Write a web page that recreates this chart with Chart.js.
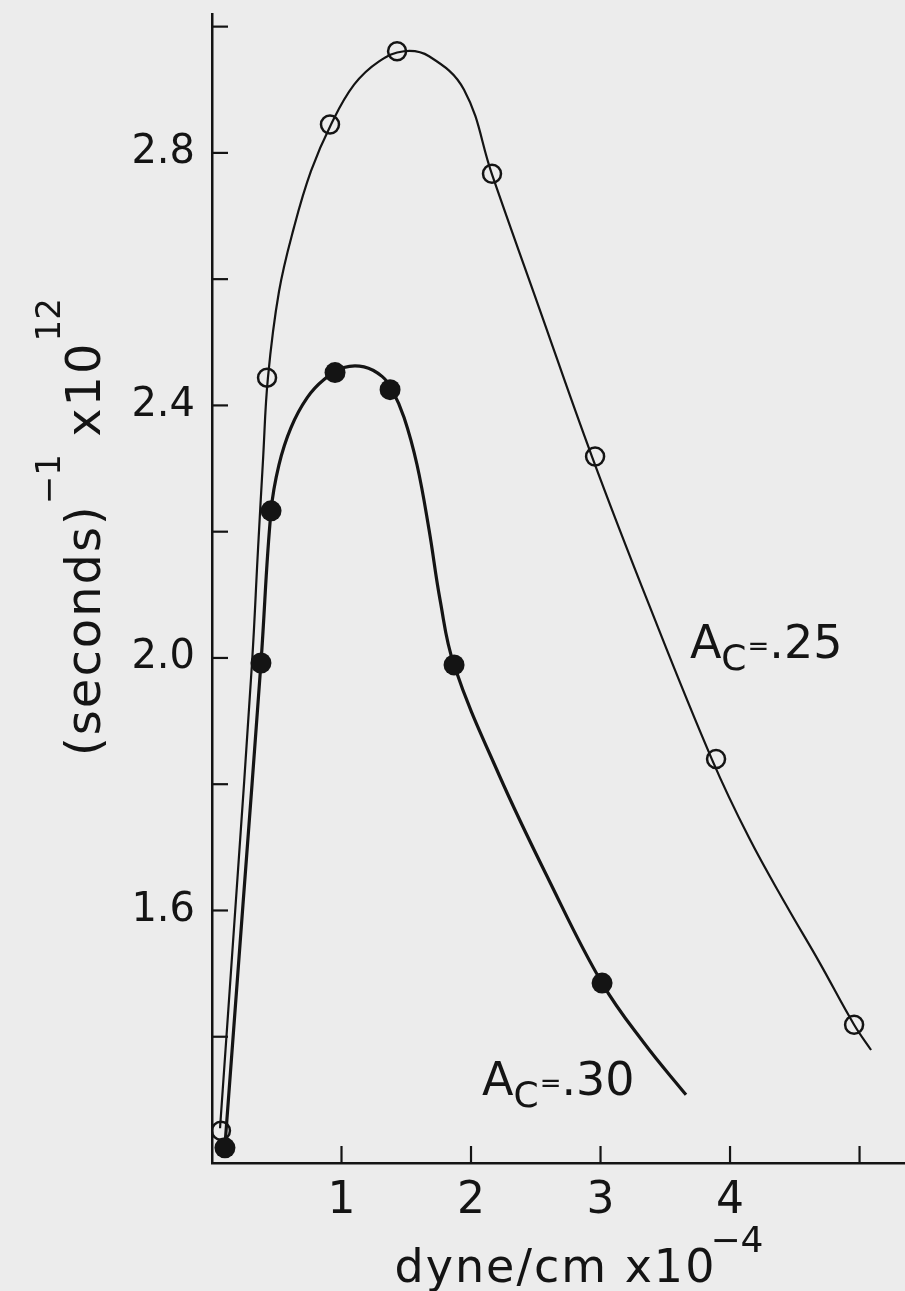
<!DOCTYPE html>
<html><head><meta charset="utf-8">
<script src="https://cdn.jsdelivr.net/npm/chart.js@4.4.1/dist/chart.umd.min.js"></script>
<style>html,body{margin:0;padding:0;background:#ececec;}#wrap{width:905px;height:1291px;}</style>
</head><body><div id="wrap"><canvas id="c" width="905" height="1291"></canvas></div>
<script>
// ---- data ----
const curve25X = [0.062,0.185,0.309,0.355,0.394,0.432,0.517,0.633,0.764,0.919,1.097,1.290,1.483,1.676,1.946,2.162,2.525,2.934,3.375,3.861,4.147,4.432,4.687,4.958,5.089];
const curve25Y = [1.255,1.617,1.992,2.171,2.314,2.444,2.580,2.682,2.771,2.845,2.908,2.945,2.961,2.953,2.900,2.766,2.555,2.319,2.084,1.839,1.715,1.609,1.519,1.419,1.379];
const curve30X = [0.100,0.239,0.378,0.456,0.517,0.610,0.734,0.865,1.019,1.174,1.313,1.390,1.483,1.583,1.676,1.761,1.869,2.216,2.602,3.012,3.336,3.660];
const curve30Y = [1.227,1.609,1.992,2.233,2.306,2.365,2.412,2.441,2.460,2.461,2.446,2.425,2.381,2.306,2.203,2.092,1.989,1.815,1.648,1.485,1.390,1.308];
const points25X = [0.069,0.425,0.911,1.429,2.162,2.958,3.892,4.958];
const points25Y = [1.251,2.444,2.845,2.961,2.767,2.319,1.840,1.419];
const points30X = [0.100,0.378,0.456,0.950,1.375,1.869,3.012];
const points30Y = [1.224,1.992,2.233,2.452,2.425,1.989,1.485];
const xTickValues = [1,2,3,4,5];
const xTickLabels = ['1','2','3','4',''];
const yTickValues = [1.4,1.6,1.8,2.0,2.2,2.4,2.6,2.8,3.0];
const yTickLabels = ['','1.6','','2.0','','2.4','','2.8',''];
const annotationLabels = ['.25','.30'];
const annotationX = [3.69,2.085];
const annotationY = [2.0,1.308];

const INK = '#141414';
const FONT = '"DejaVu Sans", sans-serif';
const zip = (xs, ys) => xs.map((x, i) => ({x, y: ys[i]}));

const paperPlugin = {
  id: 'paper',
  beforeDraw(chart) {
    const c = chart.ctx; c.save(); c.fillStyle = '#ececec';
    c.fillRect(0, 0, chart.width, chart.height); c.restore();
  },
  afterDraw(chart) {
    const c = chart.ctx, xs = chart.scales.x, ys = chart.scales.y, a = chart.chartArea;
    c.save();
    c.strokeStyle = INK; c.lineWidth = 2.2;
    yTickValues.forEach(v => { const p = ys.getPixelForValue(v); c.beginPath(); c.moveTo(a.left, p); c.lineTo(a.left + 16, p); c.stroke(); });
    xTickValues.forEach(v => { const p = xs.getPixelForValue(v); c.beginPath(); c.moveTo(p, a.bottom); c.lineTo(p, a.bottom - 17); c.stroke(); });
    c.fillStyle = INK; c.textBaseline = 'alphabetic'; c.textAlign = 'left';
    const write = (segs, x0, y0) => { let x = x0; segs.forEach(s => { c.font = s.size + 'px ' + FONT; c.letterSpacing = (s.ls || 0) + 'px'; c.fillText(s.t, x + (s.dx || 0), y0 + (s.dy || 0)); x += c.measureText(s.t).width + (s.dx || 0) + (s.after || 0); }); return x - x0; };
    const measure = segs => { let w = 0; segs.forEach(s => { c.font = s.size + 'px ' + FONT; c.letterSpacing = (s.ls || 0) + 'px'; w += c.measureText(s.t).width + (s.dx || 0) + (s.after || 0); }); return w; };
    // y title (rotated)
    const ySegs = [{t:'(seconds)', size:48, ls:2}, {t:'−1', size:34, dy:-40, ls:0}, {t:' x10', size:48, ls:2}, {t:'12', size:34, dy:-40, ls:0}];
    c.save(); c.translate(100, 527); c.rotate(-Math.PI / 2);
    write(ySegs, -measure(ySegs) / 2, 0); c.restore();
    // x title
    const xSegs = [{t:'dyne/cm x10', size:46, ls:2}, {t:'−4', size:36, dy:-30, dx:-6}];
    write(xSegs, 579 - measure(xSegs) / 2, 1282);
    // curve labels
    annotationLabels.forEach((lab, i) => {
      const px = xs.getPixelForValue(annotationX[i]), py = ys.getPixelForValue(annotationY[i]);
      write([{t:'A', size:46}, {t:'C', size:36, dy:12, after:1}, {t:'=', size:26, dy:-3}, {t:lab, size:46}], px, py);
    });
    c.restore();
  }
};

new Chart(document.getElementById('c'), {
  type: 'scatter',
  data: { datasets: [
    { data: zip(curve25X, curve25Y), showLine: true, borderColor: INK, borderWidth: 2.2, pointRadius: 0, tension: 0.4, order: 4 },
    { data: zip(curve30X, curve30Y), showLine: true, borderColor: INK, borderWidth: 3.2, pointRadius: 0, tension: 0.4, order: 3 },
    { data: zip(points25X, points25Y), showLine: false, pointRadius: 9, pointBorderWidth: 2.5, pointBorderColor: INK, pointBackgroundColor: 'rgba(0,0,0,0)', order: 2 },
    { data: zip(points30X, points30Y), showLine: false, pointRadius: 10.5, pointBorderWidth: 0, pointBackgroundColor: INK, pointBorderColor: INK, order: 1 }
  ]},
  options: {
    responsive: false, animation: false, devicePixelRatio: 1,
    layout: { autoPadding: false, padding: { top: 14, right: 0, bottom: 0, left: 0 } },
    plugins: { legend: { display: false }, tooltip: { enabled: false } },
    scales: {
      x: { type: 'linear', min: 0, max: 5.351,
        afterBuildTicks: s => { s.ticks = xTickValues.map(v => ({ value: v })); },
        afterFit: s => { s.height = 128; s.paddingLeft = 0; s.paddingRight = 0; },
        grid: { display: false, drawTicks: false },
        border: { display: true, color: INK, width: 2.5 },
        ticks: { autoSkip: false, maxRotation: 0, padding: 12, color: INK, font: { family: FONT, size: 44 },
          callback: (v, i) => xTickLabels[i] } },
      y: { type: 'linear', min: 1.2, max: 3.02,
        afterBuildTicks: s => { s.ticks = yTickValues.map(v => ({ value: v })); },
        afterFit: s => { s.width = 212; s.paddingTop = 0; s.paddingBottom = 0; },
        grid: { display: false, drawTicks: false },
        border: { display: true, color: INK, width: 2.5 },
        ticks: { autoSkip: false, padding: 17, color: INK, font: { family: FONT, size: 40 },
          callback: (v, i) => yTickLabels[i] } }
    }
  },
  plugins: [paperPlugin]
});
</script></body></html>
